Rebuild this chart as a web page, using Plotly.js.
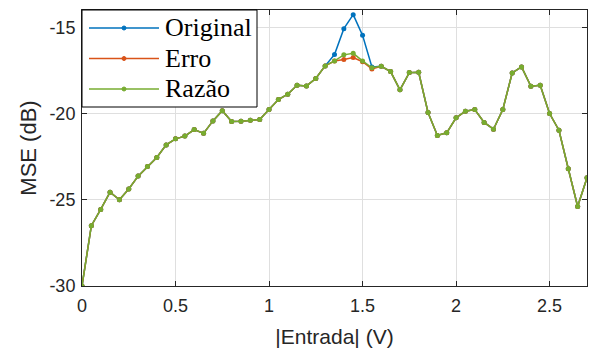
<!DOCTYPE html>
<html>
<head>
<meta charset="utf-8">
<script src="https://cdn.plot.ly/plotly-3.0.1.min.js"></script>
<style>html,body{margin:0;padding:0;background:#fff;}#chart{width:591px;height:354px;}</style>
</head>
<body>
<div id="chart"></div>
<script>
// Data
var entrada = [0.00,0.05,0.10,0.15,0.20,0.25,0.30,0.35,0.40,0.45,0.50,0.55,0.60,0.65,0.70,0.75,0.80,0.85,0.90,0.95,
  1.00,1.05,1.10,1.15,1.20,1.25,1.30,1.35,1.40,1.45,1.50,1.55,1.60,1.65,1.70,1.75,1.80,1.85,1.90,1.95,
  2.00,2.05,2.10,2.15,2.20,2.25,2.30,2.35,2.40,2.45,2.50,2.55,2.60,2.65,2.70];
var original = [-30.0,-26.5,-25.56,-24.56,-25.0,-24.38,-23.63,-23.07,-22.55,-21.82,-21.47,-21.31,-20.93,-21.15,-20.43,-19.84,-20.46,-20.45,-20.39,-20.35,
  -19.77,-19.19,-18.88,-18.36,-18.40,-17.97,-17.24,-16.58,-15.08,-14.27,-15.47,-17.30,-17.26,-17.57,-18.63,-17.63,-17.61,-19.94,-21.27,-21.12,
  -20.25,-19.87,-19.77,-20.52,-20.91,-19.77,-17.65,-17.30,-18.42,-18.36,-20.0,-20.97,-23.2,-25.39,-23.73];
var erro = [-30.0,-26.5,-25.56,-24.56,-25.0,-24.38,-23.63,-23.07,-22.55,-21.82,-21.47,-21.31,-20.93,-21.15,-20.43,-19.84,-20.46,-20.45,-20.39,-20.35,
  -19.77,-19.19,-18.88,-18.36,-18.40,-17.97,-17.24,-16.96,-16.87,-16.76,-17.0,-17.42,-17.26,-17.57,-18.63,-17.63,-17.61,-19.94,-21.27,-21.12,
  -20.25,-19.87,-19.77,-20.52,-20.91,-19.77,-17.65,-17.30,-18.42,-18.36,-20.0,-20.97,-23.2,-25.39,-23.73];
var razao = [-30.0,-26.5,-25.56,-24.56,-25.0,-24.38,-23.63,-23.07,-22.55,-21.82,-21.47,-21.31,-20.93,-21.15,-20.43,-19.84,-20.46,-20.45,-20.39,-20.35,
  -19.77,-19.19,-18.88,-18.36,-18.40,-17.97,-17.24,-16.95,-16.6,-16.51,-16.95,-17.35,-17.26,-17.57,-18.63,-17.63,-17.61,-19.94,-21.27,-21.12,
  -20.25,-19.87,-19.77,-20.52,-20.91,-19.77,-17.65,-17.30,-18.42,-18.36,-20.0,-20.97,-23.2,-25.39,-23.73];
var seriesNames = ["Original","Erro","Razão"];
var seriesColors = ["#0072BD","#D95319","#77AC30"];
var xTickVals = [0,0.5,1,1.5,2,2.5];
var xTickText = ["0","0.5","1","1.5","2","2.5"];
var yTickVals = [-30,-25,-20,-15];
var yTickText = ["-30","-25","-20","-15"];

var ys = [original, erro, razao];
var traces = ys.map(function(y,i){
  return {x: entrada, y: y, name: seriesNames[i], type:'scatter', mode:'lines+markers',
    line:{color:seriesColors[i], width:1.5}, marker:{color:seriesColors[i], size:5}, showlegend:false};
});

// custom legend (paper coords), plot area 505 x 276 px
var W = 505, H = 276;
function px(x){return x/W;}
function py(y){return 1 - y/H;}
var shapes = [];
var annotations = [];
shapes.push({type:'rect', xref:'paper', yref:'paper', x0:0, x1:px(175), y0:py(97), y1:1,
  line:{color:'#000', width:1}, fillcolor:'#fff', layer:'above'});
var rowY = [18, 48.5, 79];
for (var i=0;i<3;i++){
  shapes.push({type:'line', xref:'paper', yref:'paper', x0:px(7), x1:px(77), y0:py(rowY[i]), y1:py(rowY[i]),
    line:{color:seriesColors[i], width:1.5}, layer:'above'});
  shapes.push({type:'circle', xref:'paper', yref:'paper', x0:px(40), x1:px(44), y0:py(rowY[i]+2), y1:py(rowY[i]-2),
    line:{color:seriesColors[i], width:1}, fillcolor:seriesColors[i], layer:'above'});
  annotations.push({xref:'paper', yref:'paper', x:px(81), y:py(rowY[i]), xanchor:'left', yanchor:'middle',
    text:seriesNames[i], showarrow:false, font:{family:'Liberation Serif, Times New Roman, serif', size:26, color:'#000'}});
}

var axisCommon = {showline:true, linecolor:'#262626', linewidth:1, mirror:'ticks', ticks:'inside', ticklen:5,
  tickcolor:'#262626', showgrid:true, gridcolor:'#DFDFDF', gridwidth:1, zeroline:false,
  tickfont:{family:'Liberation Sans, Arial, sans-serif', size:18, color:'#262626'}};

var layout = {
  width:591, height:354,
  margin:{l:82, r:4, t:10, b:68},
  paper_bgcolor:'#fff', plot_bgcolor:'#fff',
  showlegend:false,
  xaxis: Object.assign({}, axisCommon, {range:[0,2.7], tickmode:'array', tickvals:xTickVals, ticktext:xTickText,
    ticklabelstandoff:3,
    title:{text:'|Entrada| (V)', font:{family:'Liberation Sans, Arial, sans-serif', size:21, color:'#262626'}, standoff:14}}),
  yaxis: Object.assign({}, axisCommon, {range:[-30,-14], tickmode:'array', tickvals:yTickVals, ticktext:yTickText,
    ticklabelstandoff:2,
    title:{text:'MSE (dB)', font:{family:'Liberation Sans, Arial, sans-serif', size:22, color:'#262626'}, standoff:6}}),
  shapes: shapes,
  annotations: annotations
};
Plotly.newPlot('chart', traces, layout, {staticPlot:true, displayModeBar:false});
</script>
</body>
</html>
